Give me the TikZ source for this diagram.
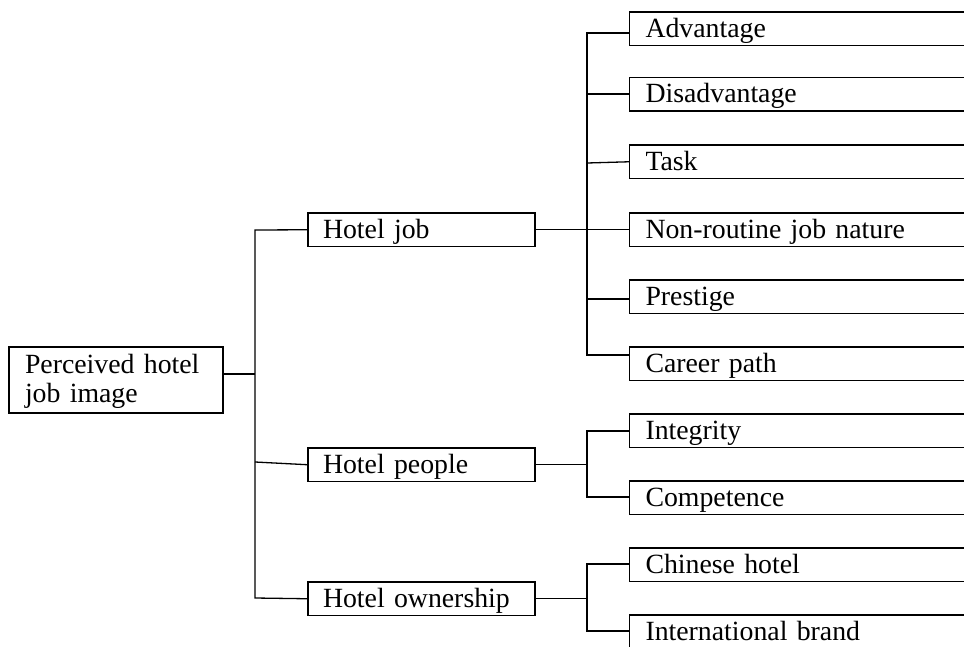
\documentclass[tikz,border=0pt]{standalone}
\usepackage{fontspec}
\setmainfont{Liberation Serif}
\begin{document}
\begin{tikzpicture}[x={(1pt,0)}, y={(0,-1pt)},
  every node/.style={font=\fontsize{27.8}{29.5}\selectfont},
  box/.style={draw, line width=1.4pt, rectangle, anchor=north west, outer sep=0pt,
    inner ysep=0pt, align=left, text height=25pt, text depth=8.5pt},
  leaf/.style={box, inner xsep=16pt, text width=360pt},
  mid/.style={box, inner xsep=15pt, text width=197pt},
  link/.style={line width=1.3pt}]
\useasboundingbox (0,0) rectangle (964,646);
\clip (0,0) rectangle (964,646);

% root
\node[box, inner xsep=16pt, text width=182pt, text height=26pt, text depth=40pt]
  (root) at (9,347) {Perceived hotel\\job image};

% second level
\node[mid] (hj) at (308,213) {Hotel job};
\node[mid] (hp) at (308,448) {Hotel people};
\node[mid] (ho) at (308,582) {Hotel ownership};

% leaves
\node[leaf] (adv)  at (629.5,12)    {Advantage};
\node[leaf] (dis)  at (629.5,77.5)  {Disadvantage};
\node[leaf] (task) at (629.5,145)   {Task};
\node[leaf] (nonr) at (629.5,213)   {Non-routine job nature};
\node[leaf] (pres) at (629.5,280)   {Prestige};
\node[leaf] (car)  at (629.5,347)   {Career path};
\node[leaf] (integ) at (629.5,414)  {Integrity};
\node[leaf] (comp) at (629.5,481)   {Competence};
\node[leaf] (chin) at (629.5,548)   {Chinese hotel};
\node[leaf] (intl) at (629.5,615)   {International brand};

% root bus
\coordinate (rb) at (255,374);
\coordinate (bt) at (255,230);
\coordinate (bp) at (255,462);
\coordinate (bb) at (255,598);
\draw[link] (root.east |- rb) -- (rb);
\draw[link] (hj.west) -- (bt) -- (bb) -- (ho.west);
\draw[link] (bp) -- (hp.west);

% hotel job bus
\coordinate (j1) at (587,33);
\coordinate (j2) at (587,94);
\coordinate (j3) at (587,163);
\coordinate (j5) at (587,299);
\coordinate (j6) at (587,355);
\draw[link] (adv.west |- j1) -- (j1) -- (j6) -- (car.west |- j6);
\draw[link] (j2) -- (dis.west |- j2);
\draw[link] (j3) -- (task.west);
\draw[link] (hj.east) -- (nonr.west);
\draw[link] (j5) -- (pres.west |- j5);

% hotel people bus
\coordinate (p1) at (587,431);
\coordinate (p2) at (587,497);
\draw[link] (integ.west |- p1) -- (p1) -- (p2) -- (comp.west |- p2);
\draw[link] (hp.east) -- (hp.east -| p1);

% hotel ownership bus
\coordinate (o1) at (587,564);
\coordinate (o2) at (587,631);
\draw[link] (chin.west |- o1) -- (o1) -- (o2) -- (intl.west |- o2);
\draw[link] (ho.east) -- (ho.east -| o1);
\end{tikzpicture}
\end{document}
